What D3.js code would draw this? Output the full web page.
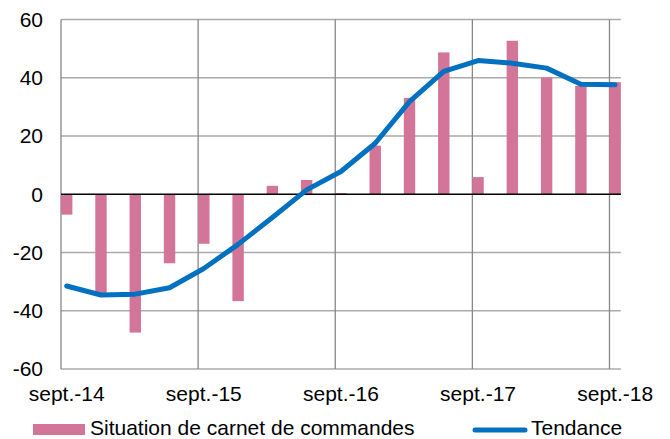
<!DOCTYPE html>
<html lang="fr">
<head>
  <meta charset="UTF-8">
  <title>Situation de carnet de commandes - Tendance</title>
  <script src="https://d3js.org/d3.v7.min.js"></script>
  <style>
    body { margin: 0; background: #fff; }
    svg text { font-family: "Liberation Sans", Arial, sans-serif; fill: #000; font-size: 21px; }
  </style>
</head>
<body>
<div id="chart"></div>
<script>
// quarterly periods, sept.-14 to sept.-18
const periods = ["sept.-14", "déc.-14", "mars-15", "juin-15", "sept.-15", "déc.-15", "mars-16", "juin-16",
  "sept.-16", "déc.-16", "mars-17", "juin-17", "sept.-17", "déc.-17", "mars-18", "juin-18", "sept.-18"];
const carnet = [-7, -34, -47.5, -23.7, -17, -36.7, 2.9, 4.9, 0.4, 16.7, 33.1, 48.7, 5.9, 52.7, 40.1, 37.2, 38.5];
const tendance = [-31.5, -34.6, -34.3, -32.1, -25.5, -17.2, -8, 1.5, 7.8, 17.5, 31.8, 42.2, 45.9, 45, 43.3, 37.8, 37.6];
const xTickLabels = ["sept.-14", "sept.-15", "sept.-16", "sept.-17", "sept.-18"];
const yTicks = [-60, -40, -20, 0, 20, 40, 60];

const W = 670, H = 439;
const plotLeft = 61, plotTop = 19.5, plotBottom = 369;
const barW = 11.4;
const step = 34.28;

const svg = d3.select("#chart").append("svg")
  .attr("width", W).attr("height", H);

const x = d3.scaleLinear().domain([0, periods.length - 1]).range([plotLeft, plotLeft + step * (periods.length - 1)]);
const plotRight = x(periods.length - 1) + barW;
const y = d3.scaleLinear().domain([-60, 60]).range([plotBottom, plotTop]);

// horizontal grid
svg.append("g").selectAll("line")
  .data(yTicks.filter(d => d !== 0))
  .enter().append("line")
  .attr("x1", plotLeft).attr("x2", plotRight)
  .attr("y1", d => y(d)).attr("y2", d => y(d))
  .attr("stroke", "#ababab").attr("stroke-width", 1.3);

// vertical grid at each year
const yearIdx = xTickLabels.map(l => periods.indexOf(l));
svg.append("g").selectAll("line")
  .data(yearIdx)
  .enter().append("line")
  .attr("x1", d => x(d)).attr("x2", d => x(d))
  .attr("y1", plotTop).attr("y2", plotBottom)
  .attr("stroke", "#878787").attr("stroke-width", 1.3);

// y axis labels
svg.append("g").selectAll("text")
  .data(yTicks)
  .enter().append("text")
  .attr("x", 43).attr("y", d => y(d))
  .attr("dy", "0.35em")
  .attr("text-anchor", "end")
  .text(d => d);

// bars
svg.append("g").selectAll("rect")
  .data(carnet)
  .enter().append("rect")
  .attr("x", (d, i) => x(i))
  .attr("width", barW)
  .attr("y", d => y(Math.max(0, d)))
  .attr("height", d => Math.abs(y(d) - y(0)))
  .attr("fill", "#d27598");

// zero line
svg.append("line")
  .attr("x1", plotLeft).attr("x2", plotRight)
  .attr("y1", y(0)).attr("y2", y(0))
  .attr("stroke", "#000").attr("stroke-width", 1.3);

// trend line
const line = d3.line()
  .x((d, i) => x(i) + barW / 2)
  .y(d => y(d));
svg.append("path")
  .datum(tendance)
  .attr("d", line)
  .attr("fill", "none")
  .attr("stroke", "#0070c0")
  .attr("stroke-width", 5)
  .attr("stroke-linejoin", "round")
  .attr("stroke-linecap", "round");

// x axis labels
svg.append("g").selectAll("text")
  .data(yearIdx)
  .enter().append("text")
  .attr("x", d => x(d) + barW / 2)
  .attr("y", 401)
  .attr("text-anchor", "middle")
  .text(d => periods[d]);

// legend
const legend = svg.append("g");
legend.append("rect")
  .attr("x", 33).attr("y", 424).attr("width", 52).attr("height", 11)
  .attr("fill", "#d27598");
legend.append("text")
  .attr("x", 90).attr("y", 434.5)
  .text("Situation de carnet de commandes");
legend.append("line")
  .attr("x1", 475).attr("x2", 525).attr("y1", 430).attr("y2", 430)
  .attr("stroke", "#0070c0").attr("stroke-width", 5)
  .attr("stroke-linecap", "round");
legend.append("text")
  .attr("x", 531).attr("y", 434.5)
  .text("Tendance");
</script>
</body>
</html>
